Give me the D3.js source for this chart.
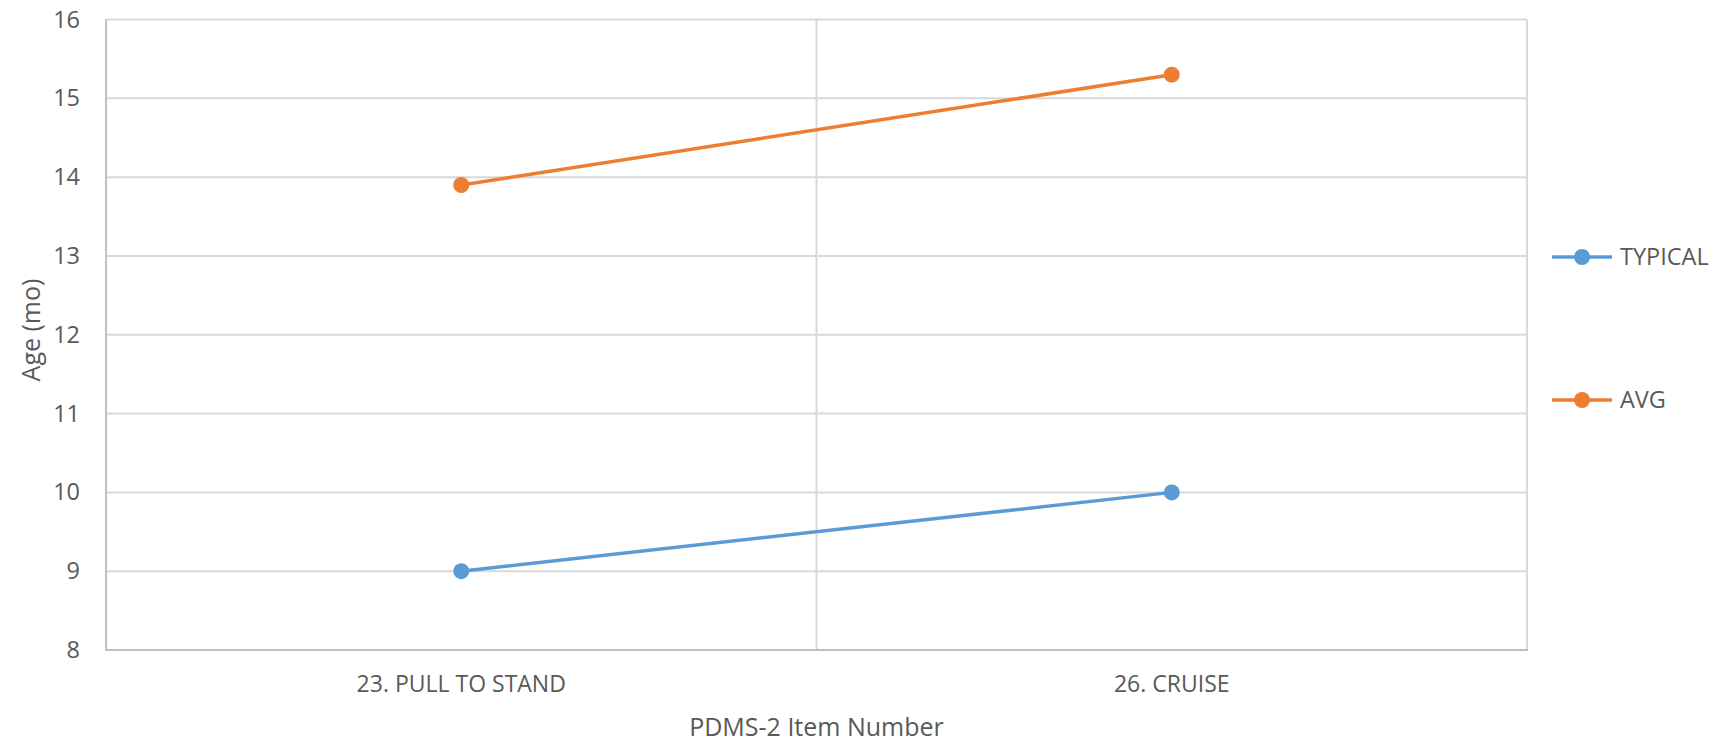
<!DOCTYPE html>
<html>
<head>
<meta charset="utf-8">
<script src="https://cdn.jsdelivr.net/npm/d3@7"></script>
<style>
  html, body { margin: 0; padding: 0; background: #fff; }
  svg { display: block; }
  text { font-family: "Open Sans", "Liberation Sans", sans-serif; fill: #595959; }
</style>
</head>
<body>
<svg id="chart" width="1721" height="746"></svg>
<script>
// Chart data
const categories = ["23. PULL TO STAND", "26. CRUISE"];
const typical = [9, 10];
const avg = [13.9, 15.3];
const yTicks = [8, 9, 10, 11, 12, 13, 14, 15, 16];
const seriesNames = ["TYPICAL", "AVG"];
const seriesColors = ["#5B9BD5", "#ED7D31"];

const series = [
  { name: seriesNames[0], values: typical, color: seriesColors[0] },
  { name: seriesNames[1], values: avg, color: seriesColors[1] }
];

const plot = { left: 106, right: 1527, top: 19.5, bottom: 650 };

const svg = d3.select("#chart");

const x = d3.scaleBand().domain(categories).range([plot.left, plot.right]).paddingInner(0).paddingOuter(0);
const y = d3.scaleLinear().domain([8, 16]).range([plot.bottom, plot.top]);

// Horizontal gridlines
svg.append("g")
  .selectAll("line")
  .data(yTicks)
  .join("line")
  .attr("x1", plot.left).attr("x2", plot.right)
  .attr("y1", d => y(d)).attr("y2", d => y(d))
  .attr("stroke", "#d9d9d9").attr("stroke-width", 2);

// Vertical gridlines between categories and at the right edge
svg.append("g")
  .selectAll("line")
  .data(categories.slice(1).concat([null]))
  .join("line")
  .attr("x1", d => d === null ? plot.right : x(d))
  .attr("x2", d => d === null ? plot.right : x(d))
  .attr("y1", plot.top).attr("y2", plot.bottom)
  .attr("stroke", "#d9d9d9").attr("stroke-width", 2);

// Axis lines
svg.append("line")
  .attr("x1", plot.left).attr("x2", plot.left)
  .attr("y1", plot.top).attr("y2", plot.bottom)
  .attr("stroke", "#bfbfbf").attr("stroke-width", 2);
svg.append("line")
  .attr("x1", plot.left - 1).attr("x2", plot.right + 1)
  .attr("y1", plot.bottom).attr("y2", plot.bottom)
  .attr("stroke", "#bfbfbf").attr("stroke-width", 2);

// Y axis tick labels
const yAxis = d3.axisLeft(y).tickValues(yTicks).tickSize(0).tickPadding(26).tickFormat(d3.format("d"));
const gy = svg.append("g").attr("transform", `translate(${plot.left},0)`).call(yAxis);
gy.select(".domain").remove();
gy.selectAll("text")
  .style("font-size", "23.5px")
  .style("font-family", "'Open Sans', sans-serif")
  .attr("fill", "#595959");

// X axis tick labels
const xAxis = d3.axisBottom(x).tickSize(0).tickPadding(26);
const gx = svg.append("g").attr("transform", `translate(0,${plot.bottom})`).call(xAxis);
gx.select(".domain").remove();
gx.selectAll("text")
  .style("font-size", "23px")
  .style("font-family", "'Open Sans', sans-serif")
  .attr("fill", "#595959");

// Axis titles
svg.append("text")
  .attr("x", (plot.left + plot.right) / 2)
  .attr("y", 736)
  .attr("text-anchor", "middle")
  .style("font-size", "25px")
  .text("PDMS-2 Item Number");

svg.append("text")
  .attr("transform", `translate(40,330) rotate(-90)`)
  .attr("text-anchor", "middle")
  .style("font-size", "25px")
  .text("Age (mo)");

// Series lines and markers
const line = d3.line()
  .x((d, i) => x(categories[i]) + x.bandwidth() / 2)
  .y(d => y(d));

const sg = svg.append("g")
  .selectAll("g")
  .data(series)
  .join("g");

sg.append("path")
  .attr("d", d => line(d.values))
  .attr("fill", "none")
  .attr("stroke", d => d.color)
  .attr("stroke-width", 3.5);

sg.selectAll("circle")
  .data(d => d.values.map((v, i) => ({ v, i, color: d.color })))
  .join("circle")
  .attr("cx", d => x(categories[d.i]) + x.bandwidth() / 2)
  .attr("cy", d => y(d.v))
  .attr("r", 8)
  .attr("fill", d => d.color);

// Legend
const legendY = [257, 400];
const lg = svg.append("g")
  .selectAll("g")
  .data(series)
  .join("g")
  .attr("transform", (d, i) => `translate(1552,${legendY[i]})`);

lg.append("line")
  .attr("x1", 0).attr("x2", 60)
  .attr("y1", 0).attr("y2", 0)
  .attr("stroke", d => d.color).attr("stroke-width", 3.5);
lg.append("circle")
  .attr("cx", 30).attr("cy", 0).attr("r", 8)
  .attr("fill", d => d.color);
lg.append("text")
  .attr("x", 68).attr("y", 0)
  .attr("dy", "0.35em")
  .style("font-size", "23.5px")
  .text(d => d.name);
</script>
</body>
</html>
